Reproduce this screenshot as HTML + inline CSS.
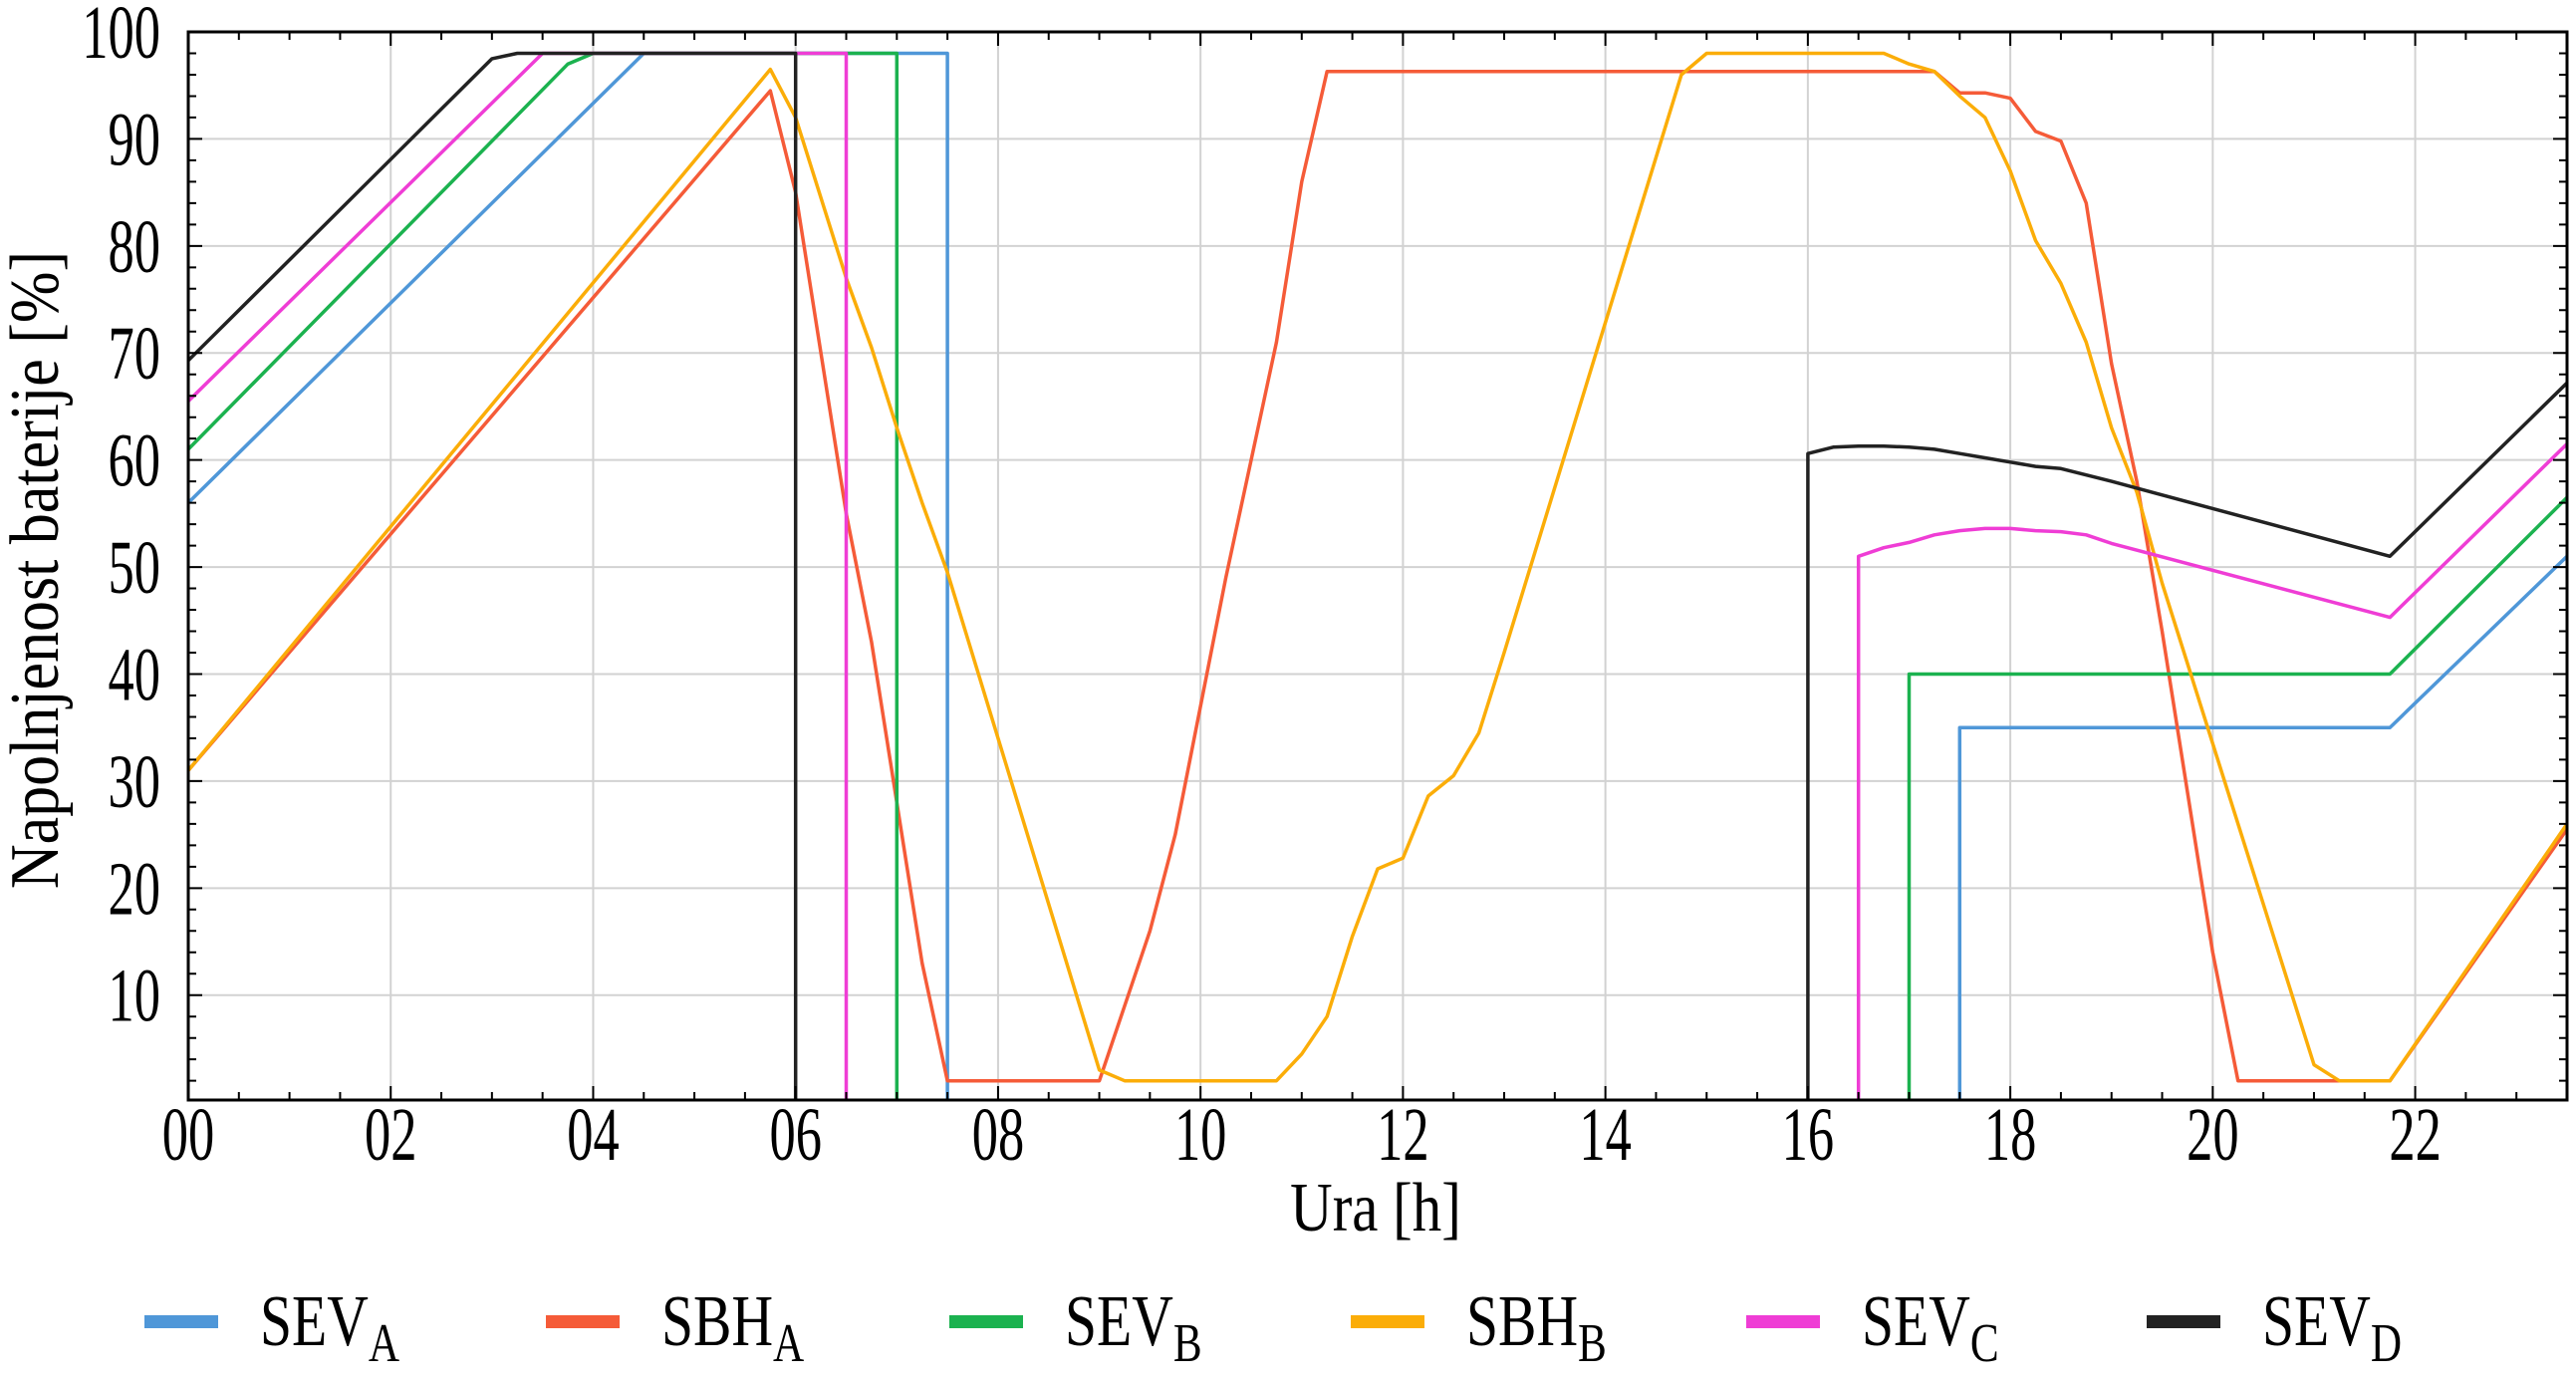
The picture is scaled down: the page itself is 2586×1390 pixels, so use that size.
<!DOCTYPE html>
<html><head><meta charset="utf-8"><style>
html,body{margin:0;padding:0;background:#fff;}
svg{display:block;font-family:"Liberation Serif",serif;}
</style></head><body>
<svg id="chart" width="2586" height="1390" viewBox="0 0 2586 1390" xmlns="http://www.w3.org/2000/svg">
<defs><clipPath id="plotclip"><rect x="189" y="32" width="2388" height="1072"/></clipPath></defs>
<g id="grid"></g>
<g id="series" clip-path="url(#plotclip)"></g>
<g id="axes"></g>
<text transform="translate(1381,1235) scale(0.95,1.12)" font-size="62" text-anchor="middle">Ura [h]</text>
<text transform="translate(58,572) rotate(-90) scale(1.0,1.12)" font-size="62" text-anchor="middle">Napolnjenost baterije [%]</text>
<g id="legend"></g>
</svg>
<script>
const NS="http://www.w3.org/2000/svg";
const seriesNames=["SEV","SBH","SEV","SBH","SEV","SEV"];
const seriesSubs=["A","A","B","B","C","D"];
const seriesColors=["#4f97d8","#f55b38","#1bb24f","#fbad08","#ef3dd5","#222222"];
const sevA_x=[0,4.5,7.5,7.5,17.5,17.5,21.75,23.5];
const sevA_y=[56,98,98,-1,-1,35,35,51];
const sbhA_x=[0,5.75,6,6.5,6.75,7,7.25,7.5,9,9.25,9.5,9.75,10,10.25,10.5,10.75,11,11.25,17.25,17.5,17.75,18,18.25,18.5,18.75,19,19.25,19.5,19.75,20,20.25,21.75,23.5];
const sbhA_y=[31,94.5,85,55,43,28,13,2,2,9,16,25,37,49,60,71,86,96.3,96.3,94.3,94.3,93.8,90.7,89.8,84,69,58,44,29,14,2,2,25.5];
const sevB_x=[0,3.75,4,7,7,17,17,21.75,23.5];
const sevB_y=[61,97,98,98,-1,-1,40,40,56.5];
const sbhB_x=[0,5.75,6,6.5,6.75,7,7.25,7.5,9,9.25,10.75,11,11.25,11.5,11.75,12,12.25,12.5,12.75,13,14.75,15,16.75,17,17.25,17.5,17.75,18,18.25,18.5,18.75,19,19.25,19.5,21,21.25,21.75,23.5];
const sbhB_y=[31,96.5,92,77,70.5,63,56,49.5,3,2,2,4.5,8,15.5,21.8,22.8,28.6,30.5,34.5,42,96,98,98,97,96.3,94,92,87,80.5,76.5,71,63,57,48.5,3.5,2,2,26];
const sevC_x=[0,3.5,6.5,6.5,16.5,16.5,16.75,17,17.25,17.5,17.75,18,18.25,18.5,18.75,19,21.75,23.5];
const sevC_y=[65.5,98,98,-1,-1,51,51.8,52.3,53,53.4,53.6,53.6,53.4,53.3,53,52.2,45.3,61.5];
const sevD_x=[0,3,3.25,6,6,16,16,16.25,16.5,16.75,17,17.25,17.5,17.75,18,18.25,18.5,18.75,19,21.75,23.5];
const sevD_y=[69.3,97.5,98,98,-1,-1,60.6,61.2,61.3,61.3,61.2,61,60.6,60.2,59.8,59.4,59.2,58.6,58,51,67.2];
const xTicks=[0,2,4,6,8,10,12,14,16,18,20,22];
const xTickLabels=["00","02","04","06","08","10","12","14","16","18","20","22"];
const yTicks=[10,20,30,40,50,60,70,80,90,100];

const L=189,R=2577,T=32,B=1104,X0=0,X1=23.5,Y0=0.2,Y1=100;
const sx=v=>L+(v-X0)/(X1-X0)*(R-L);
const sy=v=>B-(v-Y0)/(Y1-Y0)*(B-T);
function mk(tag,attrs,parent){const e=document.createElementNS(NS,tag);for(const k in attrs)e.setAttribute(k,attrs[k]);parent.appendChild(e);return e;}
const grid=document.getElementById('grid'),axes=document.getElementById('axes'),ser=document.getElementById('series'),leg=document.getElementById('legend');
xTicks.forEach((t,i)=>{
  const g=mk('line',{x1:sx(t),x2:sx(t),y1:T,y2:B,stroke:"#d2d2d2","stroke-width":2},grid);
  
  
  const lb=mk('text',{transform:`translate(${sx(t)},${B+60}) scale(0.82,1.2)`,"font-size":64,"text-anchor":"middle"},axes);
  lb.textContent=xTickLabels[i];
  
  
});
yTicks.forEach(t=>{
  const g=mk('line',{x1:L,x2:R,y1:sy(t),y2:sy(t),stroke:"#d2d2d2","stroke-width":2},grid);
  
  
  const lb=mk('text',{transform:`translate(${L-28},${sy(t)+26}) scale(0.82,1.2)`,"font-size":64,"text-anchor":"end"},axes);
  lb.textContent=String(t);
  
  
});
let td="";
for(let v=0;v<=23.5001;v+=0.5){const x=sx(v);const len=(Math.abs(v/2-Math.round(v/2))<1e-6)?14:8;td+=`M${x},${B}v${-len}M${x},${T}v${len}`;}
for(let v=2;v<=100;v+=2){const y=sy(v);const len=(v%10===0)?14:8;td+=`M${L},${y}h${len}M${R},${y}h${-len}`;}
const tk=mk('path',{d:td,stroke:"#000","stroke-width":2,fill:"none"},axes);


const fr=mk('rect',{x:L,y:T,width:R-L,height:B-T,fill:"none",stroke:"#000","stroke-width":3},axes);


const allX=[sevA_x,sbhA_x,sevB_x,sbhB_x,sevC_x,sevD_x];
const allY=[sevA_y,sbhA_y,sevB_y,sbhB_y,sevC_y,sevD_y];
const ids=["sev-a","sbh-a","sev-b","sbh-b","sev-c","sev-d"];
allX.forEach((xs,i)=>{
  const pts=xs.map((x,j)=>sx(x).toFixed(1)+","+sy(allY[i][j]).toFixed(1)).join(" ");
  const p=mk('polyline',{points:pts,fill:"none",stroke:seriesColors[i],"stroke-width":3.5,"stroke-linejoin":"round"},ser);
  
  
});
const legX=[145,548,953,1356,1753,2155];
seriesNames.forEach((n,i)=>{
  const g=mk('g',{},leg);
  
  
  mk('rect',{x:legX[i],y:1320,width:74,height:13,fill:seriesColors[i]},g);
  const t=mk('text',{transform:`translate(${legX[i]+116},1350) scale(0.9,1.15)`,"font-size":64},g);
  t.textContent=n;
  const s=mk('tspan',{dy:14,"font-size":48},t);
  s.textContent=seriesSubs[i];
});
</script>
</body></html>
